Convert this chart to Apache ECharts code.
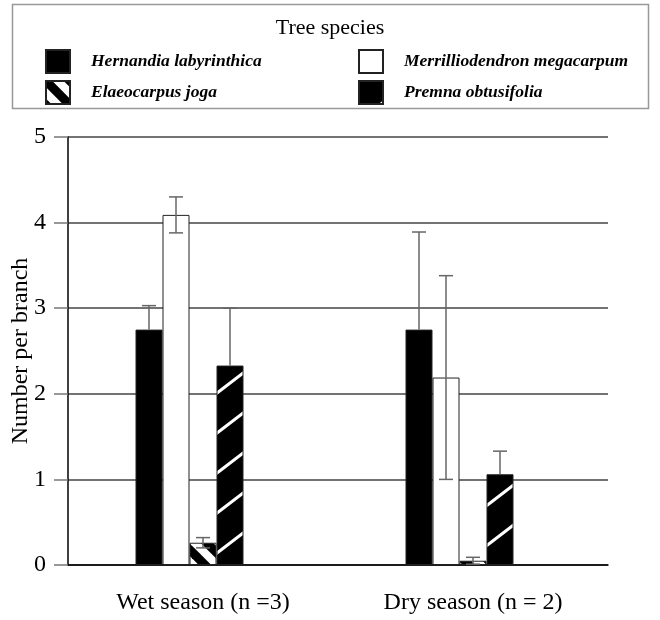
<!DOCTYPE html>
<html>
<head>
<meta charset="utf-8">
<script src="https://cdn.jsdelivr.net/npm/echarts@6/dist/echarts.min.js"></script>
<style>
  html, body { margin: 0; padding: 0; background: #fff; }
  #chart { width: 660px; height: 620px; }
</style>
</head>
<body>
<div id="chart"></div>
<script>
// Seasons on the category axis
const seasons = ['Wet season (n =3)', 'Dry season (n = 2)'];

// Species names (legend order)
const speciesNames = ['Hernandia labyrinthica', 'Merrilliodendron megacarpum', 'Elaeocarpus joga', 'Premna obtusifolia'];

// Mean number per branch, [wet, dry]
const hernandiaMean = [2.75, 2.75];
const merrillMean = [4.09, 2.19];
const elaeocarpusMean = [0.26, 0.05];
const premnaMean = [2.33, 1.06];

// Error (±) for each mean, [wet, dry]
const hernandiaErr = [0.28, 1.14];
const merrillErr = [0.21, 1.19];
const elaeocarpusErr = [0.06, 0.04];
const premnaErr = [0.67, 0.27];

// Value axis ticks
const yTicks = [0, 1, 2, 3, 4, 5];

const FONT = 'Liberation Serif';

// "\" black stripes on white
function makeBackslashTile() {
  const S = 24;
  const c = document.createElement('canvas');
  c.width = S; c.height = S;
  const g = c.getContext('2d');
  g.fillStyle = '#fff';
  g.fillRect(0, 0, S, S);
  g.strokeStyle = '#000';
  g.lineWidth = 9;
  [-S, 0, S].forEach(function (o) {
    g.beginPath();
    g.moveTo(o - 4, -4);
    g.lineTo(o + S + 4, S + 4);
    g.stroke();
  });
  return c;
}

// thin "/" white stripes on black
function makeSlashTile() {
  const W = 52, H = 40;
  const c = document.createElement('canvas');
  c.width = W; c.height = H;
  const g = c.getContext('2d');
  g.fillStyle = '#000';
  g.fillRect(0, 0, W, H);
  g.strokeStyle = '#fff';
  g.lineWidth = 3;
  [-W, 0, W].forEach(function (o) {
    g.beginPath();
    g.moveTo(o, H);
    g.lineTo(o + W, 0);
    g.stroke();
  });
  return c;
}

const backslashFill = { image: makeBackslashTile(), repeat: 'repeat' };
const slashFill = { image: makeSlashTile(), repeat: 'repeat' };

const fills = ['#000', '#fff', backslashFill, slashFill];
const means = [hernandiaMean, merrillMean, elaeocarpusMean, premnaMean];
const errs = [hernandiaErr, merrillErr, elaeocarpusErr, premnaErr];
// whether the lower whisker shows over the bar fill
const showLower = [false, true, true, false];

const SLOTS = 5;          // four species plus one empty slot per group
const SLOT_FRAC = 0.1;    // each bar is 10% of the category band

const series = [];
speciesNames.forEach(function (name, i) {
  series.push({
    name: name,
    type: 'bar',
    barWidth: (SLOT_FRAC * 100) + '%',
    barGap: '0%',
    itemStyle: { color: fills[i], borderColor: '#222', borderWidth: 1 },
    emphasis: { disabled: true },
    data: means[i],
    z: 2
  });
});
// empty slot that keeps the group spacing
series.push({
  name: 'gap',
  type: 'bar',
  barWidth: (SLOT_FRAC * 100) + '%',
  barGap: '0%',
  data: seasons.map(function () { return '-'; })
});

speciesNames.forEach(function (name, i) {
  const pts = seasons.map(function (s, k) { return [k, means[i][k], errs[i][k]]; });
  series.push({
    type: 'custom',
    name: name + ' error',
    z: 5,
    silent: true,
    data: pts,
    renderItem: function (params, api) {
      const k = api.value(0), v = api.value(1), e = api.value(2);
      const base = api.coord([k, v]);
      const band = api.size([1, 0])[0];
      const w = band * SLOT_FRAC;
      const x = base[0] + (i - (SLOTS - 1) / 2) * w;
      const yTop = api.coord([k, v + e])[1];
      const yBot = showLower[i] ? api.coord([k, v - e])[1] : base[1];
      const cap = 7;
      const style = { stroke: '#666', lineWidth: 1.5 };
      const children = [
        { type: 'line', shape: { x1: x, y1: yTop, x2: x, y2: yBot }, style: style },
        { type: 'line', shape: { x1: x - cap, y1: yTop, x2: x + cap, y2: yTop }, style: style }
      ];
      if (showLower[i]) {
        children.push({ type: 'line', shape: { x1: x - cap, y1: yBot, x2: x + cap, y2: yBot }, style: style });
      }
      return { type: 'group', children: children };
    }
  });
});

const legendText = {
  fontFamily: FONT, fontSize: 17.5, fontStyle: 'italic', fontWeight: 'bold', color: '#000',
  padding: [0, 0, 0, 16]
};

const chart = echarts.init(document.getElementById('chart'), null, { renderer: 'canvas' });
chart.setOption({
  animation: false,
  backgroundColor: '#fff',
  title: {
    text: 'Tree species',
    left: 'center',
    top: 17,
    padding: 0,
    textStyle: { fontFamily: FONT, fontSize: 22, fontWeight: 'normal', color: '#000' }
  },
  graphic: [{
    type: 'rect',
    shape: { x: 12.5, y: 4.5, width: 636, height: 104 },
    style: { fill: 'none', stroke: '#999', lineWidth: 1.5 },
    z: -1
  }],
  legend: [{
    orient: 'vertical',
    left: 45, top: 49,
    padding: 0,
    itemWidth: 24, itemHeight: 23, itemGap: 6,
    icon: 'rect',
    selectedMode: false,
    data: [speciesNames[0], speciesNames[2]],
    textStyle: legendText
  }, {
    orient: 'vertical',
    left: 358, top: 49,
    padding: 0,
    itemWidth: 24, itemHeight: 23, itemGap: 6,
    icon: 'rect',
    selectedMode: false,
    data: [speciesNames[1], speciesNames[3]],
    textStyle: legendText
  }],
  grid: { left: 68, right: 52, top: 137, bottom: 55, containLabel: false, outerBoundsMode: 'none' },
  xAxis: {
    type: 'category',
    data: seasons,
    boundaryGap: true,
    axisLine: { lineStyle: { color: '#000', width: 1.5 } },
    axisTick: { alignWithLabel: true, length: 14, lineStyle: { color: '#777', width: 1.5 } },
    axisLabel: { fontFamily: FONT, fontSize: 24, color: '#000', margin: 26 },
    splitLine: { show: false }
  },
  yAxis: {
    type: 'value',
    min: yTicks[0],
    max: yTicks[yTicks.length - 1],
    interval: 1,
    name: 'Number per branch',
    nameLocation: 'middle',
    nameGap: 35,
    nameMoveOverlap: false,
    nameTextStyle: { fontFamily: FONT, fontSize: 24, color: '#000' },
    axisLine: { show: true, lineStyle: { color: '#000', width: 1.5 } },
    axisTick: { show: true, length: 14, lineStyle: { color: '#777', width: 1.5 } },
    axisLabel: { fontFamily: FONT, fontSize: 24, color: '#000', margin: 22 },
    splitLine: { show: true, lineStyle: { color: '#444', width: 1.5 } }
  },
  series: series
});
</script>
</body>
</html>
